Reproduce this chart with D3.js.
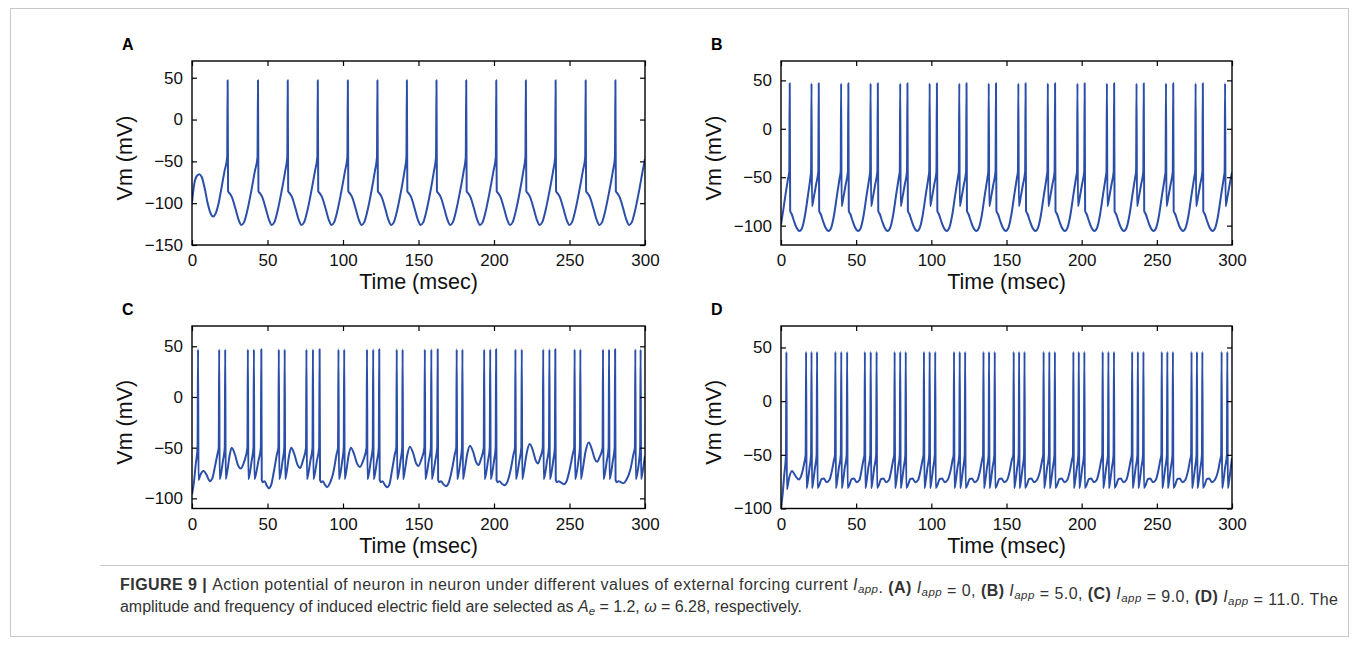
<!DOCTYPE html>
<html>
<head>
<meta charset="utf-8">
<script src="https://cdn.jsdelivr.net/npm/d3@7"></script>
<style>
body { margin: 0; background: #fff; }
svg text { font-family: "Liberation Sans", Arial, Helvetica, sans-serif; }
</style>
</head>
<body>
<script>
// tick values
var xTicks = [0, 50, 100, 150, 200, 250, 300]
var yTicksA = [-150, -100, -50, 0, 50]
var yTicksB = [-100, -50, 0, 50]
var yTicksC = [-100, -50, 0, 50]
var yTicksD = [-100, -50, 0, 50]

// membrane potential traces [time (msec), Vm (mV)]
var vmA = [
  [0,-99],[1.5,-77],[3,-68],[4.8,-65.5],[6.5,-69],[8.5,-83],[10.5,-101],[12.5,-113],[14,-116],[15.5,-113],[17.5,-101],[19.5,-82],[21.5,-62],
  [23.3,-45],[23.6,47],[23.9,-86],[24.8,-88],[26.5,-93],[28.7,-106],[30.9,-120],[32.7,-126],[34.4,-123],[36.6,-109],[39.1,-87],[41.6,-62],
  [43.4,-45],[43.7,47],[44.0,-86],[44.9,-88],[46.6,-93],[48.8,-106],[51.0,-120],[52.8,-126],[54.5,-123],[56.7,-109],[59.2,-87],[61.7,-62],
  [63.1,-45],[63.4,47],[63.7,-86],[64.6,-88],[66.3,-93],[68.5,-106],[70.7,-120],[72.5,-126],[74.2,-123],[76.4,-109],[78.9,-87],[81.4,-62],
  [83.0,-45],[83.3,47],[83.6,-86],[84.5,-88],[86.2,-93],[88.4,-106],[90.6,-120],[92.4,-126],[94.1,-123],[96.3,-109],[98.8,-87],[101.3,-62],
  [102.9,-45],[103.2,47],[103.5,-86],[104.4,-88],[106.1,-93],[108.3,-106],[110.5,-120],[112.3,-126],[114.0,-123],[116.2,-109],[118.7,-87],[121.1,-62],
  [122.5,-45],[122.8,47],[123.1,-86],[124.0,-88],[125.7,-93],[127.9,-106],[130.1,-120],[131.9,-126],[133.6,-123],[135.8,-109],[138.3,-87],[140.7,-62],
  [142.0,-45],[142.3,47],[142.6,-86],[143.5,-88],[145.2,-93],[147.4,-106],[149.6,-120],[151.4,-126],[153.1,-123],[155.3,-109],[157.8,-87],[160.2,-62],
  [161.6,-45],[161.9,47],[162.2,-86],[163.1,-88],[164.8,-93],[167.0,-106],[169.2,-120],[171.0,-126],[172.7,-123],[174.9,-109],[177.4,-87],[179.9,-62],
  [181.3,-45],[181.6,47],[181.9,-86],[182.8,-88],[184.5,-93],[186.7,-106],[188.9,-120],[190.7,-126],[192.4,-123],[194.6,-109],[197.1,-87],[199.6,-62],
  [201.2,-45],[201.5,47],[201.8,-86],[202.7,-88],[204.4,-93],[206.6,-106],[208.8,-120],[210.6,-126],[212.3,-123],[214.5,-109],[217.0,-87],[219.4,-62],
  [220.8,-45],[221.1,47],[221.4,-86],[222.3,-88],[224.0,-93],[226.2,-106],[228.4,-120],[230.2,-126],[231.9,-123],[234.1,-109],[236.6,-87],[239.1,-62],
  [240.5,-45],[240.8,47],[241.1,-86],[242.0,-88],[243.7,-93],[245.9,-106],[248.1,-120],[249.9,-126],[251.6,-123],[253.8,-109],[256.3,-87],[258.8,-62],
  [260.4,-45],[260.7,47],[261.0,-86],[261.9,-88],[263.6,-93],[265.8,-106],[268.0,-120],[269.8,-126],[271.5,-123],[273.7,-109],[276.2,-87],[278.7,-62],
  [280.1,-45],[280.4,47],[280.7,-86],[281.6,-88],[283.3,-93],[285.5,-106],[287.7,-120],[289.5,-126],[291.2,-123],[293.4,-109],[295.9,-87],[298.4,-62],
  [300,-47]
]

var vmB = [
  [0,-99],[1.5,-84],[3,-68],[4.5,-53],[5.5,-44],[5.8,47],[6.1,-85],[7.1,-88],[8.6,-95],[10.3,-102],[12.3,-105.5],[14.1,-102],[16.0,-89],[18.0,-68],[19.6,-50],
  [20.0,-44],[20.3,47],[20.6,-80],[21.9,-70],[23.4,-57],[24.8,-44],[25.1,47],[25.4,-85],[26.4,-88],[27.9,-95],[29.6,-102],[31.6,-105.5],[33.4,-102],[35.3,-89],[37.3,-68],[39.1,-50],
  [39.7,-44],[40.0,47],[40.3,-80],[41.6,-70],[43.1,-57],[44.5,-44],[44.8,47],[45.1,-85],[46.1,-88],[47.6,-95],[49.3,-102],[51.3,-105.5],[53.1,-102],[55.0,-89],[57.0,-68],[58.8,-50],
  [59.3,-44],[59.6,47],[59.9,-80],[61.2,-70],[62.7,-57],[64.1,-44],[64.4,47],[64.7,-85],[65.7,-88],[67.2,-95],[68.9,-102],[70.9,-105.5],[72.7,-102],[74.6,-89],[76.6,-68],[78.4,-50],
  [79.0,-44],[79.3,47],[79.6,-80],[80.9,-70],[82.4,-57],[83.8,-44],[84.1,47],[84.4,-85],[85.4,-88],[86.9,-95],[88.6,-102],[90.6,-105.5],[92.4,-102],[94.3,-89],[96.3,-68],[98.1,-50],
  [98.6,-44],[98.9,47],[99.2,-80],[100.5,-70],[102.0,-57],[103.4,-44],[103.7,47],[104.0,-85],[105.0,-88],[106.5,-95],[108.2,-102],[110.2,-105.5],[112.0,-102],[113.9,-89],[115.9,-68],[117.7,-50],
  [118.3,-44],[118.6,47],[118.9,-80],[120.2,-70],[121.7,-57],[123.1,-44],[123.4,47],[123.7,-85],[124.7,-88],[126.2,-95],[127.9,-102],[129.9,-105.5],[131.7,-102],[133.6,-89],[135.6,-68],[137.4,-50],
  [137.9,-44],[138.2,47],[138.5,-80],[139.8,-70],[141.3,-57],[142.7,-44],[143.0,47],[143.3,-85],[144.3,-88],[145.8,-95],[147.5,-102],[149.5,-105.5],[151.3,-102],[153.2,-89],[155.2,-68],[157.0,-50],
  [157.6,-44],[157.9,47],[158.2,-80],[159.5,-70],[161.0,-57],[162.4,-44],[162.7,47],[163.0,-85],[164.0,-88],[165.5,-95],[167.2,-102],[169.2,-105.5],[171.0,-102],[172.9,-89],[174.9,-68],[176.7,-50],
  [177.2,-44],[177.5,47],[177.8,-80],[179.1,-70],[180.6,-57],[182.0,-44],[182.3,47],[182.6,-85],[183.6,-88],[185.1,-95],[186.8,-102],[188.8,-105.5],[190.6,-102],[192.5,-89],[194.5,-68],[196.3,-50],
  [196.9,-44],[197.2,47],[197.5,-80],[198.8,-70],[200.3,-57],[201.7,-44],[202.0,47],[202.3,-85],[203.3,-88],[204.8,-95],[206.5,-102],[208.5,-105.5],[210.3,-102],[212.2,-89],[214.2,-68],[216.0,-50],
  [216.5,-44],[216.8,47],[217.1,-80],[218.4,-70],[219.9,-57],[221.3,-44],[221.6,47],[221.9,-85],[222.9,-88],[224.4,-95],[226.1,-102],[228.1,-105.5],[229.9,-102],[231.8,-89],[233.8,-68],[235.6,-50],
  [236.2,-44],[236.5,47],[236.8,-80],[238.1,-70],[239.6,-57],[241.0,-44],[241.3,47],[241.6,-85],[242.6,-88],[244.1,-95],[245.8,-102],[247.8,-105.5],[249.6,-102],[251.5,-89],[253.5,-68],[255.3,-50],
  [255.8,-44],[256.1,47],[256.4,-80],[257.7,-70],[259.2,-57],[260.6,-44],[260.9,47],[261.2,-85],[262.2,-88],[263.7,-95],[265.4,-102],[267.4,-105.5],[269.2,-102],[271.1,-89],[273.1,-68],[274.9,-50],
  [275.5,-44],[275.8,47],[276.1,-80],[277.4,-70],[278.9,-57],[280.3,-44],[280.6,47],[280.9,-85],[281.9,-88],[283.4,-95],[285.1,-102],[287.1,-105.5],[288.9,-102],[290.8,-89],[292.8,-68],[294.6,-50],
  [295.1,-44],[295.4,47],[295.7,-80],[297.0,-70],[298.5,-57],[300,-45]
]

var vmC = [
  [0,-96],[1.2,-85],[2.5,-66],[3.7,-50],[4.0,47],[4.3,-82],[5.5,-77],[7.7,-73],[9.7,-77],[11.8,-83],[13.5,-80],[15.3,-68],[16.9,-56],
  [17.7,-50],[18.0,47],[18.3,-81],[19.3,-75],[20.5,-63],[21.7,-50],[22.0,47],[22.3,-81],[23.5,-72],[25.0,-57],[26.3,-50],[28.5,-57],[30.5,-67.5],[32.3,-70.5],[34.6,-63.5],
  [36.7,-50],[37.0,47],[37.3,-81],[38.3,-75],[39.5,-63],[40.7,-50],[41.0,47],[41.3,-81],[42.5,-75],[44.0,-63],[45.6,-50],[45.9,47],[46.2,-82],[47.1,-84],[48.1,-83],[49.4,-87],[50.9,-90],[52.4,-87],[54.3,-73],[56.3,-56],
  [57.2,-50],[57.5,47],[57.8,-81],[58.8,-75],[60.0,-63],[61.1,-50],[61.4,47],[61.7,-81],[62.9,-72],[64.4,-57],[65.7,-50],[67.9,-57],[69.9,-67],[71.7,-70],[73.4,-63],
  [75.5,-50],[75.8,47],[76.1,-81],[77.1,-75],[78.4,-63],[79.8,-50],[80.1,47],[80.4,-81],[81.4,-75],[82.7,-63],[84.2,-50],[84.5,47],[84.8,-82],[85.7,-84],[86.7,-83],[88.0,-86.5],[89.5,-89],[91.0,-86],[93.8,-73],[95.8,-56],
  [96.7,-50],[97.0,47],[97.3,-81],[98.3,-75],[99.5,-63],[100.5,-50],[100.8,47],[101.1,-81],[102.3,-72],[103.8,-57],[105.2,-50],[107.4,-56.5],[109.4,-66],[111.2,-69],[113.5,-62],
  [115.6,-50],[115.9,47],[116.2,-81],[117.2,-75],[118.4,-63],[119.7,-50],[120.0,47],[120.3,-81],[121.3,-75],[122.5,-63],[123.7,-50],[124.0,47],[124.3,-82],[125.2,-84],[126.2,-83],[127.6,-86.5],[129.3,-89],[130.8,-86],[132.4,-73],[134.4,-56],
  [135.3,-50],[135.6,47],[135.9,-81],[136.9,-75],[138.1,-63],[139.2,-50],[139.5,47],[139.8,-81],[141.0,-72],[142.6,-57],[144.3,-49],[146.5,-55.5],[148.3,-65],[150.0,-68],[151.8,-62],
  [153.9,-50],[154.2,47],[154.5,-81],[155.5,-75],[156.8,-63],[158.2,-50],[158.5,47],[158.8,-81],[159.8,-75],[161.1,-63],[162.4,-50],[162.7,47],[163.0,-82],[163.9,-84],[164.9,-83],[166.4,-86],[168.2,-88],[169.9,-85],[172.1,-72],[174.1,-56],
  [175.0,-50],[175.3,47],[175.6,-81],[176.6,-75],[177.8,-63],[178.8,-50],[179.1,47],[179.4,-81],[180.6,-72],[182.3,-56],[184.1,-48],[186.3,-54.5],[188.1,-64],[189.8,-67],[191.4,-61],
  [193.2,-50],[193.5,47],[193.8,-81],[194.8,-75],[196.0,-63],[197.2,-50],[197.5,47],[197.8,-81],[198.8,-75],[200.0,-63],[201.1,-50],[201.4,47],[201.7,-82],[202.6,-84],[203.6,-83],[205.2,-85.5],[207.0,-87],[208.8,-84],[211.0,-72],[213.0,-56],
  [213.9,-50],[214.2,47],[214.5,-81],[215.5,-75],[216.8,-63],[218.1,-50],[218.4,47],[218.7,-81],[219.9,-72],[221.7,-55],[223.7,-46.5],[225.8,-53],[227.6,-62.5],[229.2,-65.5],[230.6,-60],
  [232.3,-50],[232.6,47],[232.9,-81],[233.9,-75],[235.1,-63],[236.4,-50],[236.7,47],[237.0,-81],[238.0,-75],[239.2,-63],[240.3,-50],[240.6,47],[240.9,-82],[241.8,-84],[242.8,-83],[244.5,-84.5],[246.3,-86],[248.1,-83],[250.2,-71],[252.2,-56],
  [253.1,-50],[253.4,47],[253.7,-81],[254.7,-75],[255.9,-63],[256.9,-50],[257.2,47],[257.5,-81],[258.7,-72],[260.6,-54],[262.8,-45],[264.9,-52],[266.7,-61],[268.3,-64],[270.0,-59],
  [271.9,-50],[272.2,47],[272.5,-81],[273.5,-75],[274.7,-63],[275.9,-50],[276.2,47],[276.5,-81],[277.5,-75],[278.7,-63],[279.9,-50],[280.2,47],[280.5,-82],[281.4,-84],[282.4,-83],[284.0,-84],[285.8,-85],[287.6,-82],[290.4,-71],[292.4,-56],
  [293.3,-50],[293.6,47],[293.9,-81],[294.9,-75],[296.1,-63],[296.8,-50],[297.1,47],[297.4,-81],[298.6,-72],[300,-58]
]

var vmD = [
  [0,-100],[1.0,-88],[2.2,-68],[3.3,-50],[3.6,46],[3.9,-82],[5.3,-72],[7.3,-65],[9.3,-69],[11.8,-73],[13.8,-68],[15.4,-58],
  [16.4,-50],[16.7,46],[17.0,-81],[17.9,-74],[19.0,-62],[20.0,-50],[20.3,46],[20.6,-81],[21.5,-74],[22.6,-62],[23.7,-50],[24.0,46],[24.3,-81],[25.5,-78],[27.0,-72.5],[28.5,-72],[30.3,-75.5],[32.2,-73.5],[34.0,-64],[35.2,-55],
  [35.9,-50],[36.2,46],[36.5,-81],[37.4,-74],[38.5,-62],[39.8,-50],[40.1,46],[40.4,-81],[41.3,-74],[42.4,-62],[43.7,-50],[44.0,46],[44.3,-81],[45.5,-78],[47.0,-72.5],[48.5,-72],[50.3,-75.5],[52.2,-73.5],[53.6,-64],[54.8,-55],
  [55.5,-50],[55.8,46],[56.1,-81],[57.0,-74],[58.1,-62],[59.4,-50],[59.7,46],[60.0,-81],[60.9,-74],[62.0,-62],[63.3,-50],[63.6,46],[63.9,-81],[65.1,-78],[66.6,-72.5],[68.1,-72],[69.9,-75.5],[71.8,-73.5],[73.4,-64],[74.6,-55],
  [75.3,-50],[75.6,46],[75.9,-81],[76.8,-74],[77.9,-62],[79.0,-50],[79.3,46],[79.6,-81],[80.5,-74],[81.6,-62],[82.7,-50],[83.0,46],[83.3,-81],[84.5,-78],[86.0,-72.5],[87.5,-72],[89.3,-75.5],[91.2,-73.5],[92.9,-64],[94.1,-55],
  [94.8,-50],[95.1,46],[95.4,-81],[96.3,-74],[97.4,-62],[98.6,-50],[98.9,46],[99.2,-81],[100.1,-74],[101.2,-62],[102.3,-50],[102.6,46],[102.9,-81],[104.1,-78],[105.6,-72.5],[107.1,-72],[108.9,-75.5],[110.8,-73.5],[112.9,-64],[114.1,-55],
  [114.8,-50],[115.1,46],[115.4,-81],[116.3,-74],[117.4,-62],[118.6,-50],[118.9,46],[119.2,-81],[120.1,-74],[121.2,-62],[122.2,-50],[122.5,46],[122.8,-81],[124.0,-78],[125.5,-72.5],[127.0,-72],[128.8,-75.5],[130.7,-73.5],[132.5,-64],[133.7,-55],
  [134.4,-50],[134.7,46],[135.0,-81],[135.9,-74],[137.0,-62],[138.1,-50],[138.4,46],[138.7,-81],[139.6,-74],[140.7,-62],[141.9,-50],[142.2,46],[142.5,-81],[143.7,-78],[145.2,-72.5],[146.7,-72],[148.5,-75.5],[150.4,-73.5],[152.3,-64],[153.5,-55],
  [154.5,-50],[154.8,46],[155.1,-81],[156.0,-74],[157.1,-62],[158.1,-50],[158.4,46],[158.7,-81],[159.6,-74],[160.7,-62],[161.7,-50],[162.0,46],[162.3,-81],[163.5,-78],[165.0,-72.5],[166.5,-72],[168.3,-75.5],[170.2,-73.5],[172.5,-64],[173.7,-55],
  [174.4,-50],[174.7,46],[175.0,-81],[175.9,-74],[177.0,-62],[178.2,-50],[178.5,46],[178.8,-81],[179.7,-74],[180.8,-62],[181.9,-50],[182.2,46],[182.5,-81],[183.7,-78],[185.2,-72.5],[186.7,-72],[188.5,-75.5],[190.4,-73.5],[192.3,-64],[193.5,-55],
  [194.2,-50],[194.5,46],[194.8,-81],[195.7,-74],[196.8,-62],[197.8,-50],[198.1,46],[198.4,-81],[199.3,-74],[200.4,-62],[201.5,-50],[201.8,46],[202.1,-81],[203.3,-78],[204.8,-72.5],[206.3,-72],[208.1,-75.5],[210.0,-73.5],[211.8,-64],[213.0,-55],
  [213.7,-50],[214.0,46],[214.3,-81],[215.2,-74],[216.3,-62],[217.5,-50],[217.8,46],[218.1,-81],[219.0,-74],[220.1,-62],[221.2,-50],[221.5,46],[221.8,-81],[223.0,-78],[224.5,-72.5],[226.0,-72],[227.8,-75.5],[229.7,-73.5],[231.4,-64],[232.6,-55],
  [233.3,-50],[233.6,46],[233.9,-81],[234.8,-74],[235.9,-62],[237.1,-50],[237.4,46],[237.7,-81],[238.6,-74],[239.7,-62],[240.8,-50],[241.1,46],[241.4,-81],[242.6,-78],[244.1,-72.5],[245.6,-72],[247.4,-75.5],[249.3,-73.5],[251.1,-64],[252.3,-55],
  [253.0,-50],[253.3,46],[253.6,-81],[254.5,-74],[255.6,-62],[256.7,-50],[257.0,46],[257.3,-81],[258.2,-74],[259.3,-62],[260.4,-50],[260.7,46],[261.0,-81],[262.2,-78],[263.7,-72.5],[265.2,-72],[267.0,-75.5],[268.9,-73.5],[270.9,-64],[272.1,-55],
  [272.8,-50],[273.1,46],[273.4,-81],[274.3,-74],[275.4,-62],[276.4,-50],[276.7,46],[277.0,-81],[277.9,-74],[279.0,-62],[280.0,-50],[280.3,46],[280.6,-81],[281.8,-78],[283.3,-72.5],[284.8,-72],[286.6,-75.5],[288.5,-73.5],[290.9,-64],[292.1,-55],
  [292.8,-50],[293.1,46],[293.4,-81],[294.3,-74],[295.4,-62],[296.6,-50],[296.9,46],[297.2,-81],[298.1,-74],[299.2,-62],[300,-53]
]

var outerWidth = 1358,
    outerHeight = 646
var traceColor = "#2b4fa8"

// panel layout (pixel boxes of the four axes)
var panels = [
  { letter: "A", data: vmA, yDomain: [-150, 70], yTicks: yTicksA, left: 192, right: 645, top: 61, bottom: 245 },
  { letter: "B", data: vmB, yDomain: [-120, 70], yTicks: yTicksB, left: 781, right: 1232, top: 61, bottom: 245 },
  { letter: "C", data: vmC, yDomain: [-110, 70], yTicks: yTicksC, left: 192, right: 645, top: 326, bottom: 508.5 },
  { letter: "D", data: vmD, yDomain: [-100, 70], yTicks: yTicksD, left: 781, right: 1232, top: 326, bottom: 508.5 }
]

var svg = d3.select("body")
    .append("svg")
    .attr("width", outerWidth)
    .attr("height", outerHeight)

// frame round the figure
svg.append("rect")
    .attr("x", 10.5).attr("y", 8.5)
    .attr("width", 1338).attr("height", 628)
    .attr("fill", "none")
    .attr("stroke", "#c8c8c8")
    .attr("stroke-width", 1)

function createPanel(p, i) {
    var xScale = d3.scaleLinear().domain([0, 300]).range([p.left, p.right])
    var yScale = d3.scaleLinear().domain(p.yDomain).range([p.bottom, p.top])

    var g = svg.append("g").attr("id", "panel-" + p.letter)

    g.append("clipPath")
        .attr("id", "clip-" + i)
        .append("rect")
        .attr("x", p.left).attr("y", p.top)
        .attr("width", p.right - p.left).attr("height", p.bottom - p.top)

    const line = d3.line()
        .x(d => xScale(d[0]))
        .y(d => yScale(d[1]))
        .curve(d3.curveMonotoneX)

    g.append("path")
        .datum(p.data)
        .attr("clip-path", "url(#clip-" + i + ")")
        .attr("d", line)
        .attr("fill", "none")
        .attr("stroke", traceColor)
        .attr("stroke-width", 2)
        .attr("stroke-linejoin", "round")

    // ticks on all four sides, pointing inward
    g.append("g")
        .attr("transform", "translate(0," + p.bottom + ")")
        .call(d3.axisBottom(xScale).tickValues(xTicks).tickSize(-5).tickSizeOuter(0).tickPadding(9))
    g.append("g")
        .attr("transform", "translate(" + p.left + ",0)")
        .call(d3.axisLeft(yScale).tickValues(p.yTicks).tickSize(-5).tickSizeOuter(0).tickPadding(9))
    g.append("g")
        .attr("transform", "translate(0," + p.top + ")")
        .call(d3.axisTop(xScale).tickValues(xTicks).tickSize(-5).tickSizeOuter(0).tickFormat(""))
    g.append("g")
        .attr("transform", "translate(" + p.right + ",0)")
        .call(d3.axisRight(yScale).tickValues(p.yTicks).tickSize(-5).tickSizeOuter(0).tickFormat(""))

    g.selectAll(".domain").remove()
    g.selectAll(".tick line").attr("stroke", "#000").attr("stroke-width", 1.2)
    g.selectAll(".tick text")
        .attr("font-size", "17px")
        .attr("fill", "#111")
        .style("font-family", "'Liberation Sans', Arial, sans-serif")

    g.append("rect")
        .attr("x", p.left).attr("y", p.top)
        .attr("width", p.right - p.left).attr("height", p.bottom - p.top)
        .attr("fill", "none")
        .attr("stroke", "#000")
        .attr("stroke-width", 1.4)

    // axis titles
    g.append("text")
        .attr("x", (p.left + p.right) / 2)
        .attr("y", p.bottom + 44)
        .attr("text-anchor", "middle")
        .attr("font-size", "21.5px")
        .attr("fill", "#111")
        .text("Time (msec)")

    g.append("text")
        .attr("transform", "translate(" + (p.left - 60) + "," + ((p.top + p.bottom) / 2 + 5) + ") rotate(-90)")
        .attr("text-anchor", "middle")
        .attr("font-size", "21.5px")
        .attr("fill", "#111")
        .text("Vm (mV)")

    // panel letter
    g.append("text")
        .attr("x", p.left - 70)
        .attr("y", p.top - 11)
        .attr("font-size", "16px")
        .attr("font-weight", "bold")
        .attr("fill", "#000")
        .text(p.letter)
}

panels.forEach(createPanel)

// caption
svg.append("line")
    .attr("x1", 100).attr("x2", 1348)
    .attr("y1", 565.5).attr("y2", 565.5)
    .attr("stroke", "#c8c8c8")

var cap = svg.append("g")
    .attr("font-size", "16px")
    .attr("fill", "#333")

function appendIapp(t) {
    t.append("tspan").attr("font-style", "italic").text("I")
    t.append("tspan").attr("font-style", "italic").attr("font-size", "11.5px").attr("dy", 3).text("app")
    t.append("tspan").attr("dy", -3).text("")
}

var line1 = cap.append("text").attr("x", 120).attr("y", 590)
    .attr("textLength", 1218).attr("lengthAdjust", "spacing")
line1.append("tspan").attr("font-weight", "bold").text("FIGURE 9 | ")
line1.append("tspan").text("Action potential of neuron in neuron under different values of external forcing current ")
appendIapp(line1)
line1.append("tspan").text(". ")
var conds = [["(A)", " = 0, "], ["(B)", " = 5.0, "], ["(C)", " = 9.0, "], ["(D)", " = 11.0. The"]]
conds.forEach(function(c) {
    line1.append("tspan").attr("font-weight", "bold").text(c[0] + " ")
    appendIapp(line1)
    line1.append("tspan").text(c[1])
})

var line2 = cap.append("text").attr("x", 120).attr("y", 612)
    .attr("textLength", 682).attr("lengthAdjust", "spacing")
line2.append("tspan").text("amplitude and frequency of induced electric field are selected as ")
line2.append("tspan").attr("font-style", "italic").text("A")
line2.append("tspan").attr("font-style", "italic").attr("font-size", "11.5px").attr("dy", 3).text("e")
line2.append("tspan").attr("dy", -3).text(" = 1.2, ")
line2.append("tspan").attr("font-style", "italic").text("\u03c9")
line2.append("tspan").text(" = 6.28, respectively.")
</script>
</body>
</html>
